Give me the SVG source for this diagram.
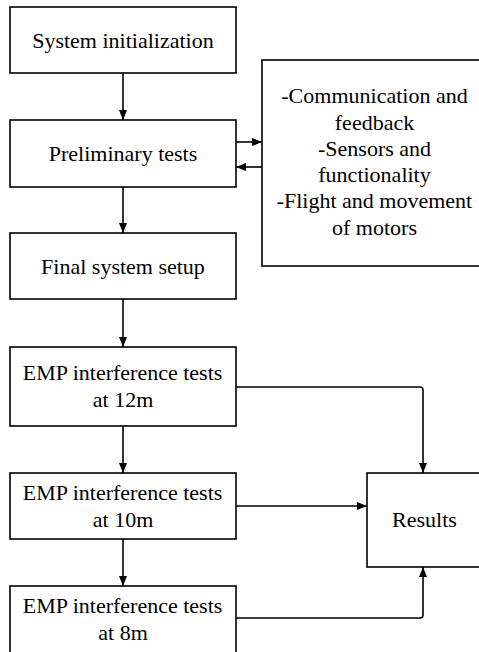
<svg xmlns="http://www.w3.org/2000/svg" width="479" height="652" viewBox="0 0 479 652">
<defs>
<marker id="ah" markerUnits="userSpaceOnUse" markerWidth="10" markerHeight="10" viewBox="0 0 10 10" refX="10" refY="5" orient="auto">
<path d="M0,1 L10,5 L0,9 Z" fill="#000"/>
</marker>
</defs>
<rect width="479" height="652" fill="#fff"/>
<g id="connectors" fill="none" stroke="#000" stroke-width="1.6">
<path d="M123,73 V120" marker-end="url(#ah)"/>
<path d="M123,187 V233" marker-end="url(#ah)"/>
<path d="M123,299 V347" marker-end="url(#ah)"/>
<path d="M123,426 V473" marker-end="url(#ah)"/>
<path d="M123,539 V586" marker-end="url(#ah)"/>
<path d="M236,142 H262" marker-end="url(#ah)"/>
<path d="M262,167 H236" marker-end="url(#ah)"/>
<path d="M236,387 H420 Q423,387 423,390 V473" marker-end="url(#ah)"/>
<path d="M236,506 H367" marker-end="url(#ah)"/>
<path d="M236,618 H420 Q423,618 423,615 V567" marker-end="url(#ah)"/>
</g>
<g id="n1"><rect fill="#fff" stroke="#000" stroke-width="1.6" x="10" y="7" width="226" height="66"/><text font-family="Liberation Serif" font-size="22" x="32.2" y="48">System initialization</text></g>
<g id="n2"><rect fill="#fff" stroke="#000" stroke-width="1.6" x="10" y="120" width="226" height="67"/><text font-family="Liberation Serif" font-size="22" x="48.8" y="161">Preliminary tests</text></g>
<g id="n3"><rect fill="#fff" stroke="#000" stroke-width="1.6" x="262" y="60" width="226" height="206"/>
<text font-family="Liberation Serif" font-size="22" x="281.3" y="103">-Communication and</text>
<text font-family="Liberation Serif" font-size="22" x="334.8" y="130">feedback</text>
<text font-family="Liberation Serif" font-size="22" x="318" y="156">-Sensors and</text>
<text font-family="Liberation Serif" font-size="22" x="318.3" y="182">functionality</text>
<text font-family="Liberation Serif" font-size="22" x="276.7" y="208">-Flight and movement</text>
<text font-family="Liberation Serif" font-size="22" x="332" y="235">of motors</text></g>
<g id="n4"><rect fill="#fff" stroke="#000" stroke-width="1.6" x="10" y="233" width="226" height="66"/><text font-family="Liberation Serif" font-size="22" x="41.1" y="274">Final system setup</text></g>
<g id="n5"><rect fill="#fff" stroke="#000" stroke-width="1.6" x="10" y="347" width="226" height="79"/><text font-family="Liberation Serif" font-size="22" x="22.8" y="380">EMP interference tests</text><text font-family="Liberation Serif" font-size="22" x="92.8" y="407">at 12m</text></g>
<g id="n6"><rect fill="#fff" stroke="#000" stroke-width="1.6" x="10" y="473" width="226" height="66"/><text font-family="Liberation Serif" font-size="22" x="22.8" y="500">EMP interference tests</text><text font-family="Liberation Serif" font-size="22" x="92.8" y="527">at 10m</text></g>
<g id="n7"><rect fill="#fff" stroke="#000" stroke-width="1.6" x="10" y="586" width="226" height="80"/><text font-family="Liberation Serif" font-size="22" x="22.8" y="613">EMP interference tests</text><text font-family="Liberation Serif" font-size="22" x="98.3" y="640">at 8m</text></g>
<g id="n8"><rect fill="#fff" stroke="#000" stroke-width="1.6" x="367" y="473" width="115" height="94"/><text font-family="Liberation Serif" font-size="22" x="392.1" y="527">Results</text></g>
</svg>
